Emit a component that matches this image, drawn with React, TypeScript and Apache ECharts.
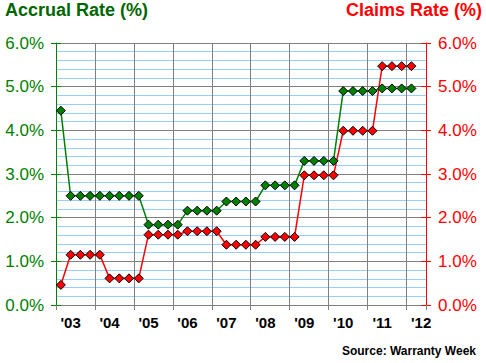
import React, { useEffect, useRef } from "react";
import * as echarts from "echarts";

// Tick labels (one per year) and quarterly categories 2003 Q1 – 2012 Q2
const yearLabels = ["'03", "'04", "'05", "'06", "'07", "'08", "'09", "'10", "'11", "'12"];
const quarterNames = ["Q1", "Q2", "Q3", "Q4"];
const categories: string[] = [];
yearLabels.forEach((y) => quarterNames.forEach((q) => categories.push(y + " " + q)));
const quarterCategories = categories.slice(0, 38);

// Accrual rate (%) – left axis, green
const accrualRate: (number | null)[] = [
  4.45,
  2.5, 2.5, 2.5, 2.5, 2.5, 2.5, 2.5, 2.5,
  1.84, 1.84, 1.84, 1.84,
  2.16, 2.16, 2.16, 2.16,
  2.37, 2.37, 2.37, 2.37,
  2.74, 2.74, 2.74, 2.74,
  3.3, 3.3, 3.3, 3.3,
  4.9, 4.9, 4.9, 4.9,
  4.96, 4.96, 4.96, 4.96,
  null,
];

// Claims rate (%) – right axis, red
const claimsRate: (number | null)[] = [
  0.46,
  1.15, 1.15, 1.15, 1.15,
  0.61, 0.61, 0.61, 0.61,
  1.61, 1.61, 1.61, 1.61,
  1.69, 1.69, 1.69, 1.69,
  1.38, 1.38, 1.38, 1.38,
  1.56, 1.56, 1.56, 1.56,
  2.97, 2.97, 2.97, 2.97,
  3.99, 3.99, 3.99, 3.99,
  5.47, 5.47, 5.47, 5.47,
  null,
];

const FONT = "'Liberation Sans', Arial, sans-serif";
const GREEN = "#008000";
const DARK_GREEN = "#006600";
const RED = "#FF0000";
const GRAY = "#808080";
const LIGHT_BLUE = "#99CCFF";

export default function App() {
  const ref = useRef<HTMLDivElement>(null);

  useEffect(() => {
    if (!ref.current) return;
    const chart = echarts.init(ref.current, null, { renderer: "svg" });
    const pct = (v: number) => v.toFixed(1) + "%";
    const yBase = { type: "value", min: 0, max: 6, interval: 1 };
    chart.setOption({
      animation: false,
      backgroundColor: "#fff",
      textStyle: { fontFamily: FONT },
      title: [
        {
          text: "Accrual Rate (%)",
          left: 5,
          top: 1,
          padding: 0,
          textStyle: { color: DARK_GREEN, fontSize: 18, fontWeight: "bold", fontFamily: FONT },
        },
        {
          text: "Claims Rate (%)",
          right: 4,
          top: 1,
          padding: 0,
          textStyle: { color: RED, fontSize: 18, fontWeight: "bold", fontFamily: FONT },
        },
        {
          text: "Source: Warranty Week",
          right: 10,
          top: 345,
          padding: 0,
          textStyle: { color: "#000", fontSize: 12, fontWeight: "bold", fontFamily: FONT },
        },
      ],
      grid: { left: 56, right: 60, top: 43, bottom: 58, containLabel: false },
      xAxis: {
        type: "category",
        data: quarterCategories,
        boundaryGap: true,
        axisLine: { show: false },
        axisTick: {
          show: true,
          length: 5,
          interval: (i: number) => i % 4 === 0,
          lineStyle: { color: GRAY },
        },
        axisLabel: {
          interval: (i: number) => i % 4 === 1,
          formatter: (v: string) => v.split(" ")[0],
          color: "#000",
          fontSize: 15,
          fontWeight: "bold",
          fontFamily: FONT,
          margin: 10,
        },
        splitLine: {
          show: true,
          interval: (i: number) => i % 4 === 0,
          lineStyle: { color: GRAY, width: 1 },
        },
      },
      yAxis: [
        {
          ...yBase,
          position: "left",
          axisLine: { show: true, lineStyle: { color: GREEN, width: 1 } },
          axisTick: { show: true, length: 5, lineStyle: { color: GREEN } },
          axisLabel: { formatter: pct, color: GREEN, fontSize: 17, fontFamily: FONT, margin: 12 },
          splitLine: { show: true, lineStyle: { color: GRAY, width: 1 } },
          minorTick: { show: false, splitNumber: 5 },
          minorSplitLine: { show: true, lineStyle: { color: LIGHT_BLUE, width: 1 } },
        },
        {
          ...yBase,
          position: "right",
          axisLine: { show: true, lineStyle: { color: RED, width: 1 } },
          axisTick: { show: true, length: 5, lineStyle: { color: RED } },
          axisLabel: { formatter: pct, color: RED, fontSize: 17, fontFamily: FONT, margin: 12 },
          splitLine: { show: false },
        },
        {
          ...yBase,
          position: "left",
          axisLine: { show: false },
          axisTick: { show: true, inside: true, length: 5, lineStyle: { color: GREEN } },
          axisLabel: { show: false },
          splitLine: { show: false },
        },
        {
          ...yBase,
          position: "right",
          axisLine: { show: false },
          axisTick: { show: true, inside: true, length: 5, lineStyle: { color: RED } },
          axisLabel: { show: false },
          splitLine: { show: false },
        },
      ],
      series: [
        {
          name: "Claims Rate",
          type: "line",
          yAxisIndex: 1,
          data: claimsRate,
          symbol: "diamond",
          symbolSize: 9,
          showAllSymbol: true,
          lineStyle: { color: RED, width: 1.5 },
          itemStyle: { color: RED, borderColor: "#000", borderWidth: 1 },
        },
        {
          name: "Accrual Rate",
          type: "line",
          yAxisIndex: 0,
          data: accrualRate,
          symbol: "diamond",
          symbolSize: 9,
          showAllSymbol: true,
          lineStyle: { color: GREEN, width: 1.5 },
          itemStyle: { color: GREEN, borderColor: "#000", borderWidth: 1 },
        },
      ],
    });
    return () => chart.dispose();
  }, []);

  return (
    <div
      ref={ref}
      style={{ position: "fixed", left: 0, top: 0, width: 486, height: 363 }}
    />
  );
}
